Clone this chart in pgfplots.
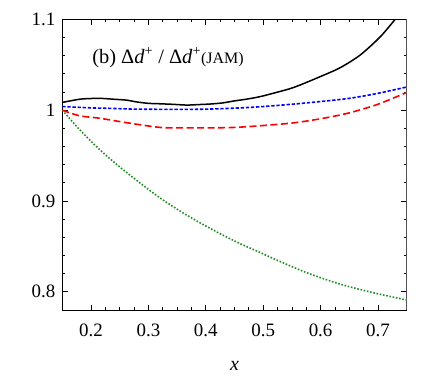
\documentclass[border=0pt]{standalone}
\usepackage{fontspec}
\setmainfont{Liberation Serif}
\usepackage{pgfplots}
\pgfplotsset{compat=1.18}

\definecolor{ddgreen}{RGB}{34,139,34}

\begin{document}
\begin{tikzpicture}
  \begin{axis}[
      scale only axis,
      width=344.4bp, height=290.7bp,
      xmin=0.15, xmax=0.75,
      ymin=0.78, ymax=1.1,
      xtick={0.2,0.3,0.4,0.5,0.6,0.7},
      ytick={0.8,0.9,1,1.1},
      minor x tick num=3,
      minor y tick num=4,
      tick align=inside,
      major tick length=5.5bp,
      minor tick length=3bp,
      every tick/.style={black, line width=0.8bp},
      axis line style={line width=1bp},
      /pgf/number format/assume math mode=true,
      ticklabel style={font=\fontsize{19}{20}\selectfont},
      xticklabel style={yshift=-10bp},
      yticklabel style={xshift=-3.5bp},
      xlabel={\textit{x}},
      xlabel style={at={(axis description cs:0.5,0)}, anchor=base,
        yshift=-60bp, font=\fontsize{20}{21}\selectfont},
      clip=true,
    ]
    % model ratios to JAM
    \addplot[ddgreen, line width=1.6bp, dash pattern=on 1.6bp off 1.7bp, smooth] coordinates {
      (0.15,1.0) (0.181,0.978) (0.216,0.956) (0.251,0.937) (0.285,0.920)
      (0.32,0.9035) (0.355,0.889) (0.39,0.876) (0.425,0.864) (0.46,0.853)
      (0.494,0.8435) (0.52,0.836) (0.576,0.821) (0.634,0.8085) (0.692,0.799) (0.75,0.791)
    };
    \addplot[red, line width=1.6bp, dash pattern=on 7bp off 3.5bp, smooth] coordinates {
      (0.15,1.0) (0.18,0.9938) (0.216,0.991) (0.262,0.9862) (0.32,0.981)
      (0.36,0.9805) (0.407,0.9805) (0.45,0.981) (0.494,0.9828) (0.55,0.9858)
      (0.6,0.9905) (0.65,0.997) (0.7,1.0065) (0.75,1.0195)
    };
    \addplot[blue, line width=1.6bp, dash pattern=on 3.3bp off 1.8bp, smooth] coordinates {
      (0.15,1.0040) (0.20,1.0025) (0.233,1.002) (0.27,1.0012) (0.32,1.0009)
      (0.36,1.0008) (0.407,1.0012) (0.45,1.0022) (0.494,1.0037) (0.55,1.0065)
      (0.6,1.0095) (0.65,1.013) (0.7,1.0185) (0.75,1.0255)
    };
    \addplot[black, line width=1.5bp, smooth] coordinates {
      (0.15,1.0085) (0.18,1.0120) (0.20,1.0128) (0.216,1.013) (0.24,1.012)
      (0.262,1.011) (0.28,1.009) (0.30,1.0075) (0.32,1.007) (0.343,1.0064)
      (0.367,1.0056) (0.39,1.0062) (0.407,1.0067) (0.43,1.0080) (0.448,1.0100)
      (0.47,1.0120) (0.494,1.0148) (0.52,1.0190) (0.546,1.0235) (0.564,1.0276)
      (0.599,1.0368) (0.634,1.0467) (0.669,1.0607) (0.704,1.0808) (0.73,1.100) (0.74,1.107)
    };
    \node[anchor=base west, font=\fontsize{20.5}{21}\selectfont, inner sep=0pt]
      at (axis cs:0.202,1.0515)
      {(b) Δ\textit{d}\textsuperscript{+} / Δ\textit{d}\textsuperscript{+}{\fontsize{16}{17}\selectfont(JAM)}};
    \draw[gray, line width=1.5bp] (rel axis cs:1,0) -- (rel axis cs:1,1);
    \coordinate (bl) at (rel axis cs:0,0);
    \coordinate (tr) at (rel axis cs:1,1);
  \end{axis}
  \pgfresetboundingbox
  \path[use as bounding box] ([shift={(-62.3bp,-71bp)}]bl) rectangle ([shift={(29.3bp,19.3bp)}]tr);
\end{tikzpicture}
\end{document}
